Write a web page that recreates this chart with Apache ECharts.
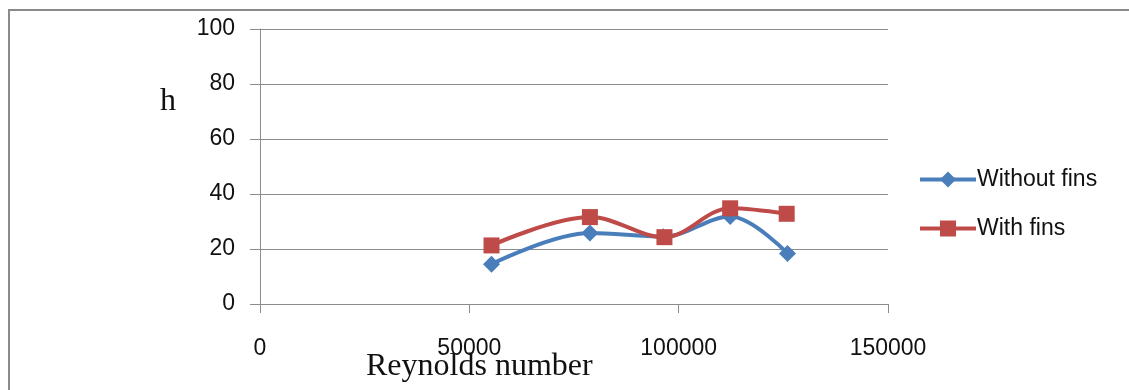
<!DOCTYPE html>
<html>
<head>
<meta charset="utf-8">
<script src="https://cdn.jsdelivr.net/npm/echarts@6/dist/echarts.min.js"></script>
<style>
  html, body { margin: 0; padding: 0; background: #fff; }
  #chart { width: 1129px; height: 390px; }
</style>
</head>
<body>
<div id="chart"></div>
<script>
// Heat transfer coefficient h against Reynolds number
const seriesNames = ['Without fins', 'With fins'];
const reWithout = [55300, 78800, 96300, 112300, 126000];
const hWithout = [14.5, 25.8, 24.5, 31.8, 18.4];
const reWith = [55300, 78800, 96600, 112300, 125800];
const hWith = [21.3, 31.6, 24.3, 34.8, 32.8];
const xTicks = [0, 50000, 100000, 150000];
const yTicks = [0, 20, 40, 60, 80, 100];

const pair = (xs, ys) => xs.map((x, i) => [x, ys[i]]);

const chart = echarts.init(document.getElementById('chart'));
chart.setOption({
  backgroundColor: '#fff',
  animation: false,
  grid: { left: 260, right: 241, top: 29, bottom: 86 },
  xAxis: {
    type: 'value',
    min: xTicks[0],
    max: xTicks[xTicks.length - 1],
    interval: xTicks[1] - xTicks[0],
    splitLine: { show: false },
    axisLine: { show: true, lineStyle: { color: '#8c8c8c', width: 1 } },
    axisTick: { show: true, length: 9, lineStyle: { color: '#8c8c8c' } },
    axisLabel: {
      margin: 33, color: '#111', fontFamily: 'Liberation Sans', fontSize: 23,
      formatter: v => String(v)
    }
  },
  yAxis: {
    type: 'value',
    min: yTicks[0],
    max: yTicks[yTicks.length - 1],
    interval: yTicks[1] - yTicks[0],
    splitLine: { show: true, lineStyle: { color: '#8c8c8c', width: 1 } },
    axisLine: { show: true, lineStyle: { color: '#8c8c8c', width: 1 } },
    axisTick: { show: true, length: 10, lineStyle: { color: '#8c8c8c' } },
    axisLabel: { margin: 25, color: '#111', fontFamily: 'Liberation Sans', fontSize: 23 }
  },
  legend: {
    orient: 'vertical',
    left: 918,
    top: 167,
    padding: 0,
    itemWidth: 56,
    itemHeight: 20,
    itemGap: 24,
    data: seriesNames,
    lineStyle: { width: 4 },
    textStyle: { color: '#111', fontFamily: 'Liberation Sans', fontSize: 23, lineHeight: 25, padding: [0, 0, 0, -4] }
  },
  graphic: [
    { type: 'rect', shape: { x: 9, y: 10, width: 1140, height: 400 }, style: { fill: 'none', stroke: '#8a8a8a', lineWidth: 2 }, silent: true },
    { type: 'text', left: 160, top: 86, style: { text: 'h', fontFamily: 'Liberation Serif', fontSize: 32, fill: '#111' } },
    { type: 'text', left: 366, top: 351, style: { text: 'Reynolds number', fontFamily: 'Liberation Serif', fontSize: 32, fill: '#111' } }
  ],
  series: [
    {
      name: seriesNames[0],
      type: 'line',
      smooth: 0.35,
      data: pair(reWithout, hWithout),
      symbol: 'diamond',
      symbolSize: 17,
      color: '#4a7ebb',
      lineStyle: { width: 4, color: '#4a7ebb' },
      itemStyle: { color: '#4a7ebb' },
      z: 2
    },
    {
      name: seriesNames[1],
      type: 'line',
      smooth: 0.35,
      data: pair(reWith, hWith),
      symbol: 'rect',
      symbolSize: 16,
      color: '#be4b48',
      lineStyle: { width: 4, color: '#be4b48' },
      itemStyle: { color: '#be4b48' },
      z: 3
    }
  ]
});
</script>
</body>
</html>
